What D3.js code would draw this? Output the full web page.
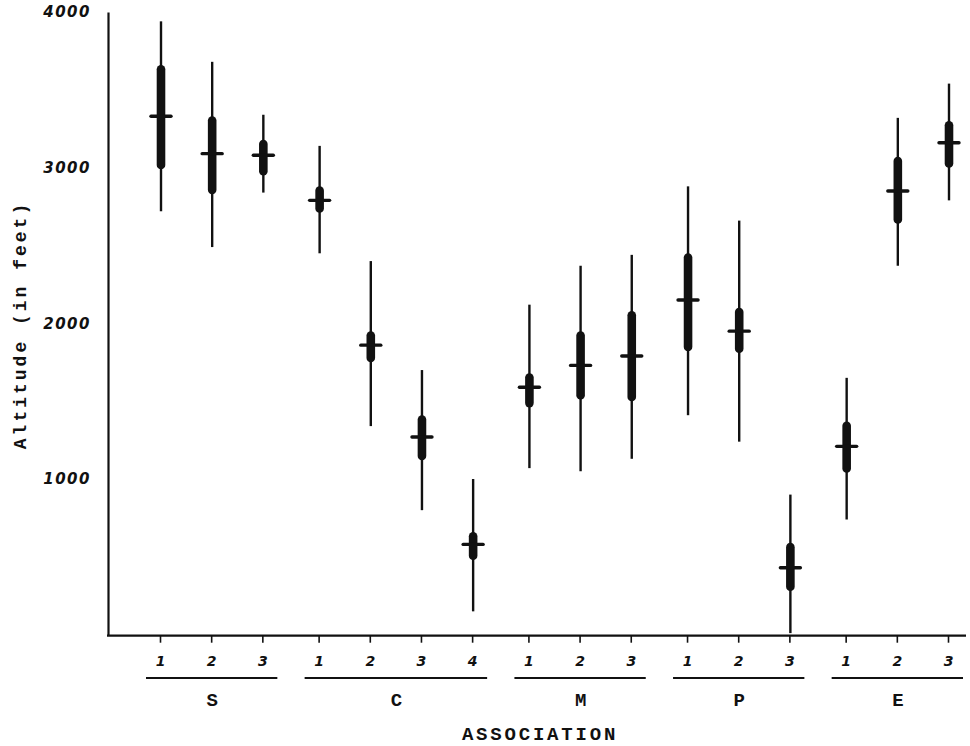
<!DOCTYPE html>
<html>
<head>
<meta charset="utf-8">
<script src="https://cdn.jsdelivr.net/npm/d3@7"></script>
<style>
  body { margin: 0; background: #fff; }
  .hand { font-family: "DejaVu Sans", sans-serif; font-style: italic; font-weight: bold; }
  .type { font-family: "Liberation Mono", "DejaVu Sans Mono", monospace; font-weight: bold; }
</style>
</head>
<body>
<svg id="chart"></svg>
<script>
// association groups and their sub-units
const groups = ['S', 'C', 'M', 'P', 'E'];
const columnGroup = ['S', 'S', 'S', 'C', 'C', 'C', 'C', 'M', 'M', 'M', 'P', 'P', 'P', 'E', 'E', 'E'];
const columnSub   = ['1', '2', '3', '1', '2', '3', '4', '1', '2', '3', '1', '2', '3', '1', '2', '3'];

// altitude in feet
const altMin  = [2720, 2490, 2840, 2450, 1340,  800,  150, 1070, 1050, 1130, 1410, 1240,   10,  740, 2370, 2790];
const altLow  = [2990, 2830, 2950, 2710, 1750, 1120,  480, 1460, 1510, 1500, 1820, 1810,  280, 1040, 2640, 3000];
const altMean = [3330, 3090, 3080, 2790, 1860, 1270,  580, 1590, 1730, 1790, 2150, 1950,  430, 1210, 2850, 3160];
const altHigh = [3660, 3330, 3180, 2880, 1950, 1410,  660, 1680, 1950, 2080, 2450, 2100,  590, 1370, 3070, 3300];
const altMax  = [3940, 3680, 3340, 3140, 2400, 1700, 1000, 2120, 2370, 2440, 2880, 2660,  900, 1650, 3320, 3540];

const yTicks = [1000, 2000, 3000, 4000];

const config = {
    width: 970,
    height: 746,
    axisLeft: 108,
    axisRight: 966,
    top: 12,
    bottom: 634.7,
    firstCol: 161,
    lastCol: 949
};

const ink = '#111';

const svg = d3.select('#chart')
    .attr('width', config.width)
    .attr('height', config.height);

const data = columnGroup.map((g, i) => ({
    group: g,
    sub: columnSub[i],
    min: altMin[i], low: altLow[i], mean: altMean[i], high: altHigh[i], max: altMax[i],
    // slot position: groups are a little further apart than the columns inside them
    slot: i + groups.indexOf(g) * 0.1
}));

const xScale = d3.scaleLinear()
    .domain([0, d3.max(data, d => d.slot)])
    .range([config.firstCol, config.lastCol]);

const yScale = d3.scaleLinear()
    .domain([0, 4000])
    .range([config.bottom, config.top]);

// y axis
const yAxisG = svg.append('g')
    .attr('transform', `translate(${config.axisLeft},0)`)
    .call(d3.axisLeft(yScale).tickValues(yTicks).tickSize(0).tickPadding(17).tickFormat(d3.format('d')));
yAxisG.select('.domain').attr('stroke', ink).attr('stroke-width', 2.2);
yAxisG.selectAll('text')
    .attr('class', 'hand')
    .attr('font-size', 15)
    .attr('fill', ink)
    .attr('letter-spacing', 1.5);

// x axis line
svg.append('line')
    .attr('x1', config.axisLeft - 1).attr('x2', config.axisRight)
    .attr('y1', yScale(0) + 1).attr('y2', yScale(0) + 1)
    .attr('stroke', ink).attr('stroke-width', 2.2);

// x ticks + sub-unit numbers
const xAxisG = svg.append('g')
    .attr('transform', `translate(-1,${yScale(0) + 1})`)
    .call(d3.axisBottom(xScale)
        .tickValues(data.map(d => d.slot))
        .tickFormat((d, i) => data[i].sub)
        .tickSize(7)
        .tickPadding(13)
        .tickSizeOuter(0));
xAxisG.select('.domain').remove();
xAxisG.selectAll('line').attr('stroke', ink).attr('stroke-width', 1.6);
xAxisG.selectAll('text')
    .attr('class', 'hand')
    .attr('font-size', 14)
    .attr('fill', ink);

// group underlines and letters
const groupInfo = groups.map(g => {
    const cols = data.filter(d => d.group === g);
    return { group: g, x0: xScale(cols[0].slot), x1: xScale(cols[cols.length - 1].slot) };
});

svg.selectAll('.group-line')
    .data(groupInfo)
    .join('line')
    .attr('class', 'group-line')
    .attr('x1', d => d.x0 - 15)
    .attr('x2', d => d.x1 + 14)
    .attr('y1', 678).attr('y2', 678)
    .attr('stroke', ink).attr('stroke-width', 2);

svg.selectAll('.group-label')
    .data(groupInfo)
    .join('text')
    .attr('class', 'group-label type')
    .attr('x', d => (d.x0 + d.x1) / 2)
    .attr('y', 706)
    .attr('text-anchor', 'middle')
    .attr('font-size', 19)
    .attr('fill', ink)
    .text(d => d.group);

// axis titles
svg.append('text')
    .attr('class', 'type')
    .attr('x', 540)
    .attr('y', 740)
    .attr('text-anchor', 'middle')
    .attr('font-size', 19)
    .attr('letter-spacing', 2.8)
    .attr('fill', ink)
    .text('ASSOCIATION');

svg.append('text')
    .attr('class', 'type')
    .attr('transform', 'translate(26,325) rotate(-90)')
    .attr('text-anchor', 'middle')
    .attr('font-size', 18)
    .attr('letter-spacing', 3)
    .attr('fill', ink)
    .text('Altitude (in feet)');

// range lines
svg.selectAll('.range')
    .data(data)
    .join('line')
    .attr('class', 'range')
    .attr('x1', d => xScale(d.slot)).attr('x2', d => xScale(d.slot))
    .attr('y1', d => yScale(d.max)).attr('y2', d => yScale(d.min))
    .attr('stroke', ink).attr('stroke-width', 2.4);

// thick bars
svg.selectAll('.bar')
    .data(data)
    .join('rect')
    .attr('class', 'bar')
    .attr('x', d => xScale(d.slot) - 4.3)
    .attr('width', 8.6)
    .attr('y', d => yScale(d.high))
    .attr('height', d => yScale(d.low) - yScale(d.high))
    .attr('rx', 4.3)
    .attr('fill', ink);

// mean marks
svg.selectAll('.mean')
    .data(data)
    .join('line')
    .attr('class', 'mean')
    .attr('x1', d => xScale(d.slot) - 10).attr('x2', d => xScale(d.slot) + 10)
    .attr('y1', d => yScale(d.mean)).attr('y2', d => yScale(d.mean))
    .attr('stroke', ink).attr('stroke-width', 3.4)
    .attr('stroke-linecap', 'round');
</script>
</body>
</html>
